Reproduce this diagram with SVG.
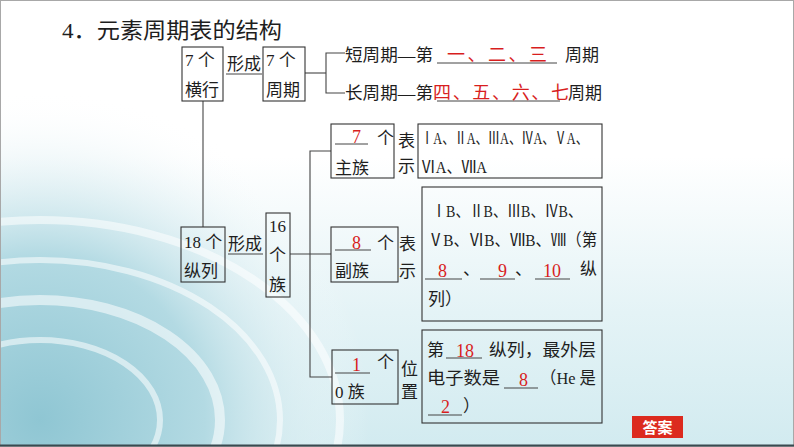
<svg xmlns="http://www.w3.org/2000/svg" width="794" height="447" viewBox="0 0 794 447">
<defs>
<style>
.t{font-family:"Liberation Serif","Noto Sans CJK SC",serif;font-size:17px;fill:#1e1e1e}
.r{font-family:"Liberation Serif","Noto Sans CJK SC",serif;font-size:18px;fill:#d81e1e}
.box{fill:none;stroke:#333;stroke-width:1.1}
.ln{fill:none;stroke:#444;stroke-width:1.1}
.ul{fill:none;stroke:#444;stroke-width:1}
</style>
<linearGradient id="bgv" x1="0" y1="0" x2="0" y2="1">
<stop offset="0.35" stop-color="#ffffff"/>
<stop offset="0.7" stop-color="#e4f3f6"/>
<stop offset="1" stop-color="#d2ebf0"/>
</linearGradient>
<radialGradient id="swirl" cx="40" cy="420" r="330" gradientUnits="userSpaceOnUse">
<stop offset="0" stop-color="#8fc6d3"/>
<stop offset="0.5" stop-color="#b3dae3"/>
<stop offset="1" stop-color="#ffffff" stop-opacity="0"/>
</radialGradient>
</defs>
<g id="background">
<rect x="0" y="0" width="794" height="447" fill="url(#bgv)"/>
<rect x="0" y="0" width="794" height="447" fill="url(#swirl)"/>
<g fill="none" stroke="#ffffff" stroke-opacity="0.55">
<ellipse cx="40" cy="420" rx="300" ry="200" stroke-width="8"/>
<ellipse cx="40" cy="420" rx="240" ry="160" stroke-width="6"/>
<ellipse cx="40" cy="420" rx="180" ry="120" stroke-width="10"/>
<ellipse cx="40" cy="420" rx="120" ry="80" stroke-width="6"/>
</g>
<rect x="0.5" y="0.5" width="793" height="446" fill="none" stroke="#a8a8a8"/>
<line x1="0" y1="445.5" x2="794" y2="445.5" stroke="#3a4a50" stroke-width="2"/>
</g>
<text id="title" class="t" x="62" y="38" style="font-size:22px" textLength="220" lengthAdjust="spacingAndGlyphs">4．元素周期表的结构</text>
<g id="connectors">
<line class="ln" x1="203" y1="101" x2="203" y2="227"/>
<line class="ln" x1="305" y1="73" x2="326" y2="73"/>
<polyline class="ln" points="345,53 326,53 326,93 345,93"/>
<line class="ln" x1="290" y1="254" x2="331" y2="254"/>
<polyline class="ln" points="331,151 310,151 310,377 332,377"/>
</g>
<g id="rows7">
<rect class="box" x="182" y="47" width="41" height="54"/>
<text class="t" x="185" y="66">7 个</text>
<text class="t" x="185" y="96">横行</text>
</g>
<g id="form1">
<text class="t" x="227" y="70">形成</text>
<line class="ul" x1="226" y1="74" x2="262" y2="74"/>
</g>
<g id="periods7">
<rect class="box" x="263" y="47" width="42" height="54"/>
<text class="t" x="266" y="66">7 个</text>
<text class="t" x="266" y="96">周期</text>
</g>
<g id="short">
<text class="t" x="345" y="61" textLength="88" lengthAdjust="spacingAndGlyphs">短周期—第</text>
<line class="ul" x1="437" y1="63" x2="557" y2="63"/>
<text class="r" x="447" y="61" textLength="100" lengthAdjust="spacing">一、二、三</text>
<text class="t" x="565" y="61">周期</text>
</g>
<g id="long">
<text class="t" x="345" y="99" textLength="88" lengthAdjust="spacingAndGlyphs">长周期—第</text>
<line class="ul" x1="437" y1="101" x2="560" y2="101"/>
<text class="r" x="433" y="99" textLength="136" lengthAdjust="spacing">四、五、六、七</text>
<text class="t" x="568" y="99">周期</text>
</g>
<g id="cols18">
<rect class="box" x="181" y="227" width="44" height="55"/>
<text class="t" x="184" y="248">18 个</text>
<text class="t" x="184" y="277">纵列</text>
</g>
<g id="form2">
<text class="t" x="228" y="250">形成</text>
<line class="ul" x1="228" y1="254" x2="263" y2="254"/>
</g>
<g id="groups16">
<rect class="box" x="266" y="213" width="24" height="84"/>
<text class="t" x="269" y="232">16</text>
<text class="t" x="269" y="261">个</text>
<text class="t" x="269" y="291">族</text>
</g>
<g id="main">
<rect class="box" x="331" y="124" width="63" height="54"/>
<line class="ul" x1="335" y1="144" x2="368" y2="144"/>
<text class="r" x="352" y="143">7</text>
<text class="t" x="377" y="144">个</text>
<text class="t" x="335" y="174">主族</text>
<text class="t" x="398" y="147">表</text>
<text class="t" x="398" y="172">示</text>
</g>
<g id="mainDesc">
<rect class="box" x="418" y="124" width="184" height="54"/>
<text class="t" x="421" y="144" textLength="167" lengthAdjust="spacingAndGlyphs">ⅠA、ⅡA、ⅢA、ⅣA、ⅤA、</text>
<text class="t" x="421" y="173" textLength="66" lengthAdjust="spacingAndGlyphs">ⅥA、ⅦA</text>
</g>
<g id="sub">
<rect class="box" x="331" y="227" width="67" height="55"/>
<line class="ul" x1="335" y1="250" x2="371" y2="250"/>
<text class="r" x="352" y="249">8</text>
<text class="t" x="377" y="249">个</text>
<text class="t" x="335" y="277">副族</text>
<text class="t" x="399" y="250">表</text>
<text class="t" x="399" y="277">示</text>
</g>
<g id="subDesc">
<rect class="box" x="422" y="187" width="180" height="134"/>
<text class="t" x="432" y="217" textLength="150" lengthAdjust="spacingAndGlyphs">ⅠB、ⅡB、ⅢB、ⅣB、</text>
<text class="t" x="428" y="246" textLength="169" lengthAdjust="spacingAndGlyphs">ⅤB、ⅥB、ⅦB、Ⅷ（第</text>
<line class="ul" x1="425" y1="279" x2="462" y2="279"/>
<text class="r" x="438" y="277">8</text>
<text class="t" x="463" y="275">、</text>
<line class="ul" x1="480" y1="279" x2="515" y2="279"/>
<text class="r" x="498" y="277">9</text>
<text class="t" x="515" y="275">、</text>
<line class="ul" x1="535" y1="279" x2="570" y2="279"/>
<text class="r" x="543" y="277">10</text>
<text class="t" x="580" y="275">纵</text>
<text class="t" x="428" y="305">列）</text>
</g>
<g id="zero">
<rect class="box" x="332" y="350" width="66" height="54"/>
<line class="ul" x1="335" y1="373" x2="370" y2="373"/>
<text class="r" x="352" y="371">1</text>
<text class="t" x="377" y="368">个</text>
<text class="t" x="335" y="398">0 族</text>
<text class="t" x="401" y="375">位</text>
<text class="t" x="401" y="398">置</text>
</g>
<g id="zeroDesc">
<rect class="box" x="422" y="330" width="180" height="93"/>
<text class="t" x="427" y="356">第</text>
<line class="ul" x1="446" y1="358" x2="482" y2="358"/>
<text class="r" x="456" y="357">18</text>
<text class="t" x="489" y="356" textLength="107" lengthAdjust="spacingAndGlyphs">纵列，最外层</text>
<text class="t" x="427" y="384" textLength="73" lengthAdjust="spacingAndGlyphs">电子数是</text>
<line class="ul" x1="504" y1="388" x2="538" y2="388"/>
<text class="r" x="519" y="386">8</text>
<text class="t" x="540" y="384" textLength="56" lengthAdjust="spacingAndGlyphs">（He 是</text>
<line class="ul" x1="428" y1="415" x2="462" y2="415"/>
<text class="r" x="441" y="413">2</text>
<text class="t" x="463" y="412">）</text>
</g>
<g id="answer">
<rect x="632" y="416" width="51" height="22" fill="#dc2a1e"/>
<text x="657.5" y="433" text-anchor="middle" style="font-family:'Noto Sans CJK SC',sans-serif;font-size:15px;font-weight:bold;fill:#ffffff">答案</text>
</g>
</svg>
